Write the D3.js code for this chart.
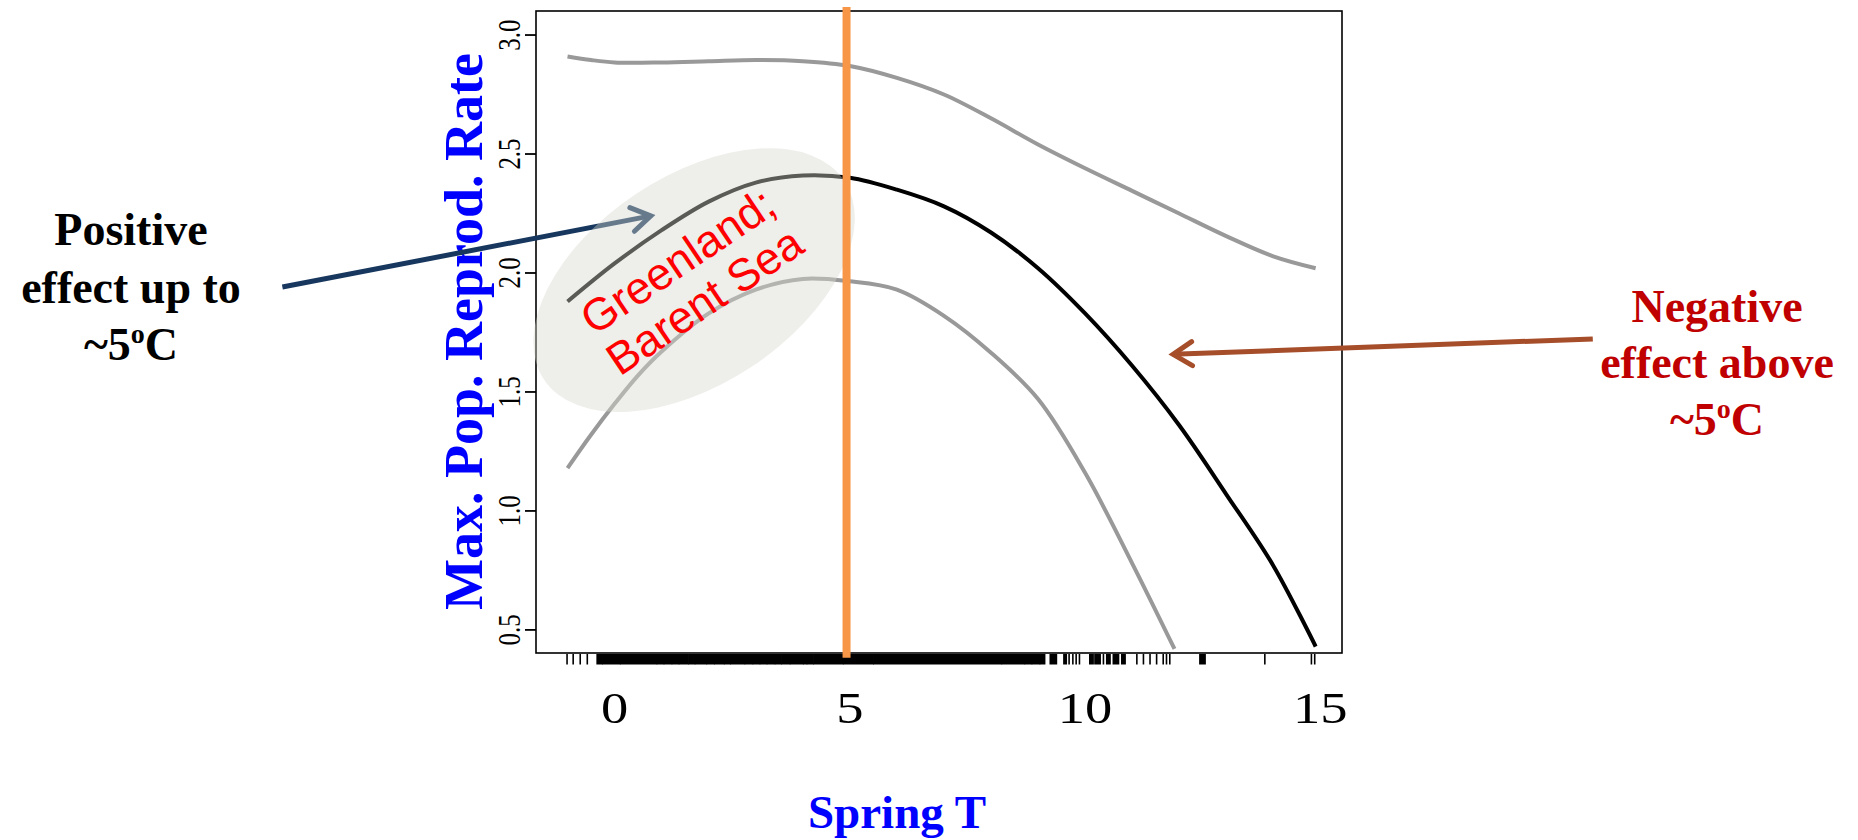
<!DOCTYPE html>
<html>
<head>
<meta charset="utf-8">
<script src="https://cdn.jsdelivr.net/npm/d3@7"></script>
<style>
  body { margin: 0; background: #fff; }
  svg { display: block; }
</style>
</head>
<body>
<div id="chart"></div>
<script>
// curves (Spring T -> max pop. reprod. rate)
const fitX = [-1, 0, 1, 2, 3, 4, 5, 6, 7, 8, 9, 10, 11, 12, 13, 14, 14.9];
const fitY = [1.88, 2.04, 2.18, 2.30, 2.38, 2.41, 2.40, 2.35, 2.28, 2.17, 2.02, 1.83, 1.61, 1.36, 1.07, 0.77, 0.43];
const upperX = [-1, -0.5, 0, 1, 2, 3, 4, 5, 6, 7, 8, 9, 10, 11, 12, 13, 14, 14.9];
const upperY = [2.91, 2.895, 2.885, 2.885, 2.89, 2.895, 2.89, 2.87, 2.82, 2.75, 2.65, 2.54, 2.44, 2.345, 2.25, 2.155, 2.07, 2.02];
const lowerX = [-1, -0.5, 0, 0.5, 1, 2, 3, 4, 5, 6, 7, 8, 9, 10, 11, 11.9];
const lowerY = [1.18, 1.32, 1.45, 1.57, 1.67, 1.83, 1.93, 1.975, 1.965, 1.93, 1.82, 1.665, 1.47, 1.16, 0.78, 0.42];

// rug: single ticks and solid runs of ticks
const rugTicks = [-1.01, -0.88, -0.73, -0.58, 9.66, 9.74, 9.81, 9.88, 10.39, 11.10, 11.24, 11.38, 11.52, 11.66, 11.73, 11.80, 13.82, 14.81, 14.88];
const rugBands = [
  [-0.37, -0.27], [-0.25, 0.11], [0.13, 0.89], [0.91, 1.04], [1.06, 1.21], [1.23, 1.36], [1.38, 1.56],
  [1.58, 1.70], [1.72, 1.95], [1.97, 2.11], [2.13, 2.32], [2.34, 2.45], [2.47, 2.76], [2.78, 2.93],
  [2.95, 3.08], [3.10, 3.23], [3.25, 3.40], [3.42, 3.54], [3.56, 3.72], [3.74, 4.00], [4.02, 4.08],
  [4.10, 4.22], [4.24, 4.85], [4.87, 5.49], [5.51, 8.22], [8.24, 8.71], [8.73, 8.86], [8.88, 9.03],
  [9.05, 9.14], [9.26, 9.39], [9.55, 9.60], [10.10, 10.17], [10.21, 10.32], [10.46, 10.53],
  [10.60, 10.71], [10.78, 10.85], [12.44, 12.55]
];

const xTicks = [0, 5, 10, 15];
const yTicks = [0.5, 1.0, 1.5, 2.0, 2.5, 3.0];
const yTickLabels = ["0.5", "1.0", "1.5", "2.0", "2.5", "3.0"];
const markerT = 4.93;

const leftNote = ["Positive", "effect up to"];
const rightNote = ["Negative", "effect above"];
const regionNote = ["Greenland;", "Barent Sea"];

const W = 1858, H = 840;
const serif = "'Liberation Serif', 'Times New Roman', serif";
const sans = "'Liberation Sans', Arial, sans-serif";

const svg = d3.select("#chart").append("svg")
  .attr("width", W).attr("height", H);

const x = d3.scaleLinear().domain([-1.67, 15.46]).range([536, 1342]);
const y = d3.scaleLinear().domain([0.403, 3.101]).range([653, 11]);

const defs = svg.append("defs");
function arrowMarker(id, color) {
  defs.append("marker")
    .attr("id", id)
    .attr("markerUnits", "userSpaceOnUse")
    .attr("viewBox", "-26 -16 32 32")
    .attr("refX", 0).attr("refY", 0)
    .attr("markerWidth", 32).attr("markerHeight", 32)
    .attr("orient", "auto")
    .append("path")
    .attr("d", "M-19,-12 L0,0 L-19,12")
    .attr("fill", "none")
    .attr("stroke", color)
    .attr("stroke-width", 5)
    .attr("stroke-linecap", "round");
}
arrowMarker("arrowBlue", "#17375E");
arrowMarker("arrowBrown", "#A64D2A");

// plot box
svg.append("rect")
  .attr("x", x.range()[0]).attr("y", y.range()[1])
  .attr("width", x.range()[1] - x.range()[0])
  .attr("height", y.range()[0] - y.range()[1])
  .attr("fill", "none").attr("stroke", "#000").attr("stroke-width", 1.6);

// y ticks (R style, labels parallel to axis, image stretched sideways)
svg.append("g").selectAll("line")
  .data(yTicks).join("line")
  .attr("x1", x.range()[0] - 11).attr("x2", x.range()[0])
  .attr("y1", d => y(d)).attr("y2", d => y(d))
  .attr("stroke", "#000").attr("stroke-width", 1.8);

svg.append("g").selectAll("text")
  .data(yTicks).join("text")
  .attr("transform", d => `translate(520,${y(d)}) scale(1.25,1) rotate(-90)`)
  .attr("text-anchor", "middle")
  .attr("font-family", serif).attr("font-size", 25)
  .text((d, i) => yTickLabels[i]);

// x tick labels
svg.append("g").selectAll("text")
  .data(xTicks).join("text")
  .attr("transform", d => `translate(${x(d)},723) scale(1.24,1)`)
  .attr("text-anchor", "middle")
  .attr("font-family", serif).attr("font-size", 44)
  .text(d => d);

// rug
const rugTop = y.range()[0] + 1, rugBottom = y.range()[0] + 11.5;
svg.append("g").selectAll("line")
  .data(rugTicks).join("line")
  .attr("x1", d => x(d)).attr("x2", d => x(d))
  .attr("y1", rugTop).attr("y2", rugBottom)
  .attr("stroke", "#000").attr("stroke-width", 1.6);
svg.append("g").selectAll("rect")
  .data(rugBands).join("rect")
  .attr("x", d => x(d[0]) - 0.8)
  .attr("width", d => x(d[1]) - x(d[0]) + 1.6)
  .attr("y", rugTop).attr("height", rugBottom - rugTop)
  .attr("fill", "#000");

// curves
const line = d3.line()
  .x(d => x(d[0])).y(d => y(d[1]))
  .curve(d3.curveCatmullRom.alpha(0.5));
svg.append("path")
  .datum(d3.zip(upperX, upperY))
  .attr("d", line).attr("fill", "none")
  .attr("stroke", "#999").attr("stroke-width", 4);
svg.append("path")
  .datum(d3.zip(lowerX, lowerY))
  .attr("d", line).attr("fill", "none")
  .attr("stroke", "#999").attr("stroke-width", 4);
svg.append("path")
  .datum(d3.zip(fitX, fitY))
  .attr("d", line).attr("fill", "none")
  .attr("stroke", "#000").attr("stroke-width", 4);

// axis titles
svg.append("text")
  .attr("transform", `translate(482,${(53 + 610) / 2}) rotate(-90)`)
  .attr("text-anchor", "middle")
  .attr("font-family", serif).attr("font-weight", "bold")
  .attr("font-size", 54).attr("fill", "#0000FF")
  .text("Max. Pop. Reprod. Rate");

svg.append("text")
  .attr("x", 897).attr("y", 828)
  .attr("text-anchor", "middle")
  .attr("font-family", serif).attr("font-weight", "bold")
  .attr("font-size", 47).attr("fill", "#0000FF")
  .text("Spring T");

// arrow to the cold region
svg.append("line")
  .attr("x1", x(-7.06)).attr("y1", y(1.941))
  .attr("x2", x(0.77)).attr("y2", y(2.24))
  .attr("stroke", "#17375E").attr("stroke-width", 5)
  .attr("marker-end", "url(#arrowBlue)");

// shaded region
svg.append("ellipse")
  .attr("transform", `translate(${x(1.69)},${y(1.97)}) rotate(-33.5)`)
  .attr("rx", 180).attr("ry", 104)
  .attr("fill", "#d6d6ce").attr("fill-opacity", 0.42);

// 5 degree marker
svg.append("line")
  .attr("x1", x(markerT)).attr("x2", x(markerT))
  .attr("y1", y(3.118)).attr("y2", y(0.383))
  .attr("stroke", "#F79646").attr("stroke-width", 8);

// region label
const rg = svg.append("g")
  .attr("transform", `translate(691,281) rotate(-34)`);
rg.selectAll("text")
  .data(regionNote).join("text")
  .attr("x", 0).attr("y", (d, i) => (i - 0.5) * 48)
  .attr("dominant-baseline", "central")
  .attr("text-anchor", "middle")
  .attr("font-family", sans).attr("font-size", 45)
  .attr("fill", "#FF0000")
  .text(d => d);

// arrow from right note
svg.append("line")
  .attr("x1", x(20.79)).attr("y1", y(1.723))
  .attr("x2", x(11.87)).attr("y2", y(1.658))
  .attr("stroke", "#A64D2A").attr("stroke-width", 5)
  .attr("marker-end", "url(#arrowBrown)");

// side notes
function note(cx, baselines, lines, color) {
  const g = svg.append("g")
    .attr("font-family", serif).attr("font-weight", "bold")
    .attr("font-size", 46).attr("fill", color)
    .attr("text-anchor", "middle");
  lines.forEach((t, i) => {
    g.append("text").attr("x", cx).attr("y", baselines[i]).text(t);
  });
  const last = g.append("text").attr("x", cx).attr("y", baselines[2]);
  last.append("tspan").text("~5");
  last.append("tspan").attr("font-size", 28).attr("dy", -17).text("o");
  last.append("tspan").attr("dy", 17).text("C");
}
note(131, [245, 303, 360], leftNote, "#000");
note(1717, [322, 378, 435], rightNote, "#C00000");
</script>
</body>
</html>
